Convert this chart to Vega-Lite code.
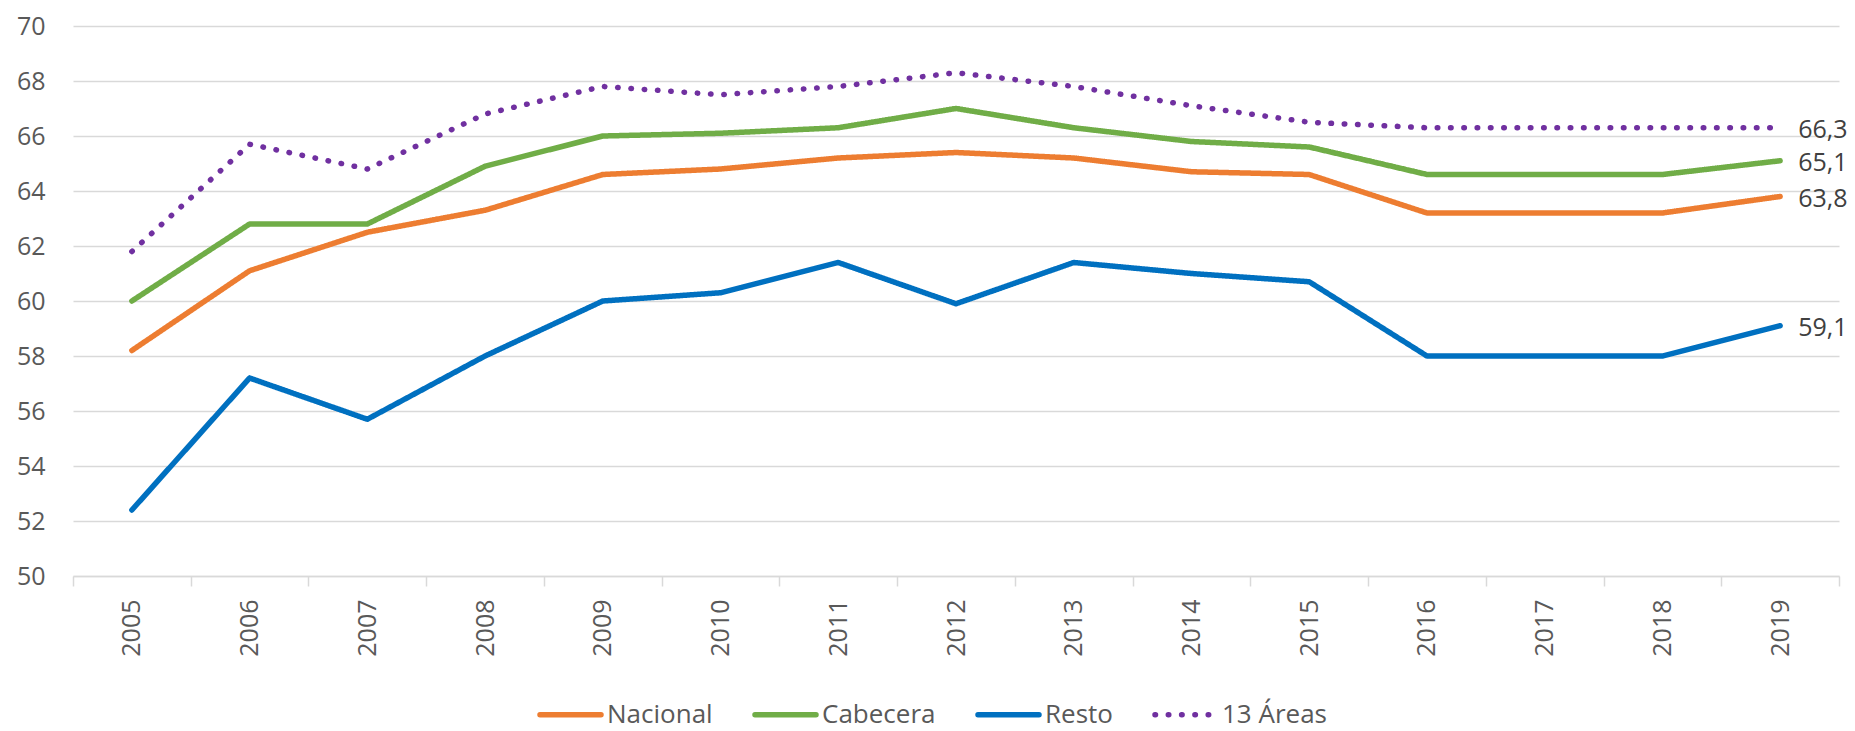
{
  "$schema": "https://vega.github.io/schema/vega-lite/v6.json",
  "width": 1766,
  "height": 550,
  "autosize": {"type": "none"},
  "padding": {"left": 73, "top": 26, "right": 16, "bottom": 155},
  "config": {
    "view": {"stroke": null},
    "font": "Open Sans",
    "locale": {"number": {"decimal": ",", "thousands": ".", "grouping": [3], "currency": ["", " €"]}}
  },
  "data": {
    "values": [
      {"year": "2005", "serie": "Nacional", "value": 58.2},
      {"year": "2006", "serie": "Nacional", "value": 61.1},
      {"year": "2007", "serie": "Nacional", "value": 62.5},
      {"year": "2008", "serie": "Nacional", "value": 63.3},
      {"year": "2009", "serie": "Nacional", "value": 64.6},
      {"year": "2010", "serie": "Nacional", "value": 64.8},
      {"year": "2011", "serie": "Nacional", "value": 65.2},
      {"year": "2012", "serie": "Nacional", "value": 65.4},
      {"year": "2013", "serie": "Nacional", "value": 65.2},
      {"year": "2014", "serie": "Nacional", "value": 64.7},
      {"year": "2015", "serie": "Nacional", "value": 64.6},
      {"year": "2016", "serie": "Nacional", "value": 63.2},
      {"year": "2017", "serie": "Nacional", "value": 63.2},
      {"year": "2018", "serie": "Nacional", "value": 63.2},
      {"year": "2019", "serie": "Nacional", "value": 63.8},
      {"year": "2005", "serie": "Cabecera", "value": 60.0},
      {"year": "2006", "serie": "Cabecera", "value": 62.8},
      {"year": "2007", "serie": "Cabecera", "value": 62.8},
      {"year": "2008", "serie": "Cabecera", "value": 64.9},
      {"year": "2009", "serie": "Cabecera", "value": 66.0},
      {"year": "2010", "serie": "Cabecera", "value": 66.1},
      {"year": "2011", "serie": "Cabecera", "value": 66.3},
      {"year": "2012", "serie": "Cabecera", "value": 67.0},
      {"year": "2013", "serie": "Cabecera", "value": 66.3},
      {"year": "2014", "serie": "Cabecera", "value": 65.8},
      {"year": "2015", "serie": "Cabecera", "value": 65.6},
      {"year": "2016", "serie": "Cabecera", "value": 64.6},
      {"year": "2017", "serie": "Cabecera", "value": 64.6},
      {"year": "2018", "serie": "Cabecera", "value": 64.6},
      {"year": "2019", "serie": "Cabecera", "value": 65.1},
      {"year": "2005", "serie": "Resto", "value": 52.4},
      {"year": "2006", "serie": "Resto", "value": 57.2},
      {"year": "2007", "serie": "Resto", "value": 55.7},
      {"year": "2008", "serie": "Resto", "value": 58.0},
      {"year": "2009", "serie": "Resto", "value": 60.0},
      {"year": "2010", "serie": "Resto", "value": 60.3},
      {"year": "2011", "serie": "Resto", "value": 61.4},
      {"year": "2012", "serie": "Resto", "value": 59.9},
      {"year": "2013", "serie": "Resto", "value": 61.4},
      {"year": "2014", "serie": "Resto", "value": 61.0},
      {"year": "2015", "serie": "Resto", "value": 60.7},
      {"year": "2016", "serie": "Resto", "value": 58.0},
      {"year": "2017", "serie": "Resto", "value": 58.0},
      {"year": "2018", "serie": "Resto", "value": 58.0},
      {"year": "2019", "serie": "Resto", "value": 59.1},
      {"year": "2005", "serie": "13 Áreas", "value": 61.8},
      {"year": "2006", "serie": "13 Áreas", "value": 65.7},
      {"year": "2007", "serie": "13 Áreas", "value": 64.8},
      {"year": "2008", "serie": "13 Áreas", "value": 66.8},
      {"year": "2009", "serie": "13 Áreas", "value": 67.8},
      {"year": "2010", "serie": "13 Áreas", "value": 67.5},
      {"year": "2011", "serie": "13 Áreas", "value": 67.8},
      {"year": "2012", "serie": "13 Áreas", "value": 68.3},
      {"year": "2013", "serie": "13 Áreas", "value": 67.8},
      {"year": "2014", "serie": "13 Áreas", "value": 67.1},
      {"year": "2015", "serie": "13 Áreas", "value": 66.5},
      {"year": "2016", "serie": "13 Áreas", "value": 66.3},
      {"year": "2017", "serie": "13 Áreas", "value": 66.3},
      {"year": "2018", "serie": "13 Áreas", "value": 66.3},
      {"year": "2019", "serie": "13 Áreas", "value": 66.3}
    ]
  },
  "encoding": {
    "x": {
      "field": "year",
      "type": "ordinal",
      "bandPosition": 0.5,
      "scale": {"type": "band", "paddingInner": 0, "paddingOuter": 0},
      "axis": {
        "title": null,
        "labelAngle": 270,
        "labelFontSize": 25,
        "labelColor": "#595959",
        "labelPadding": 13,
        "tickBand": "extent",
        "tickSize": 10,
        "tickColor": "#d9d9d9",
        "tickWidth": 1.5,
        "domainColor": "#d9d9d9",
        "domainWidth": 1.5,
        "grid": false
      }
    },
    "y": {
      "field": "value",
      "type": "quantitative",
      "scale": {"domain": [50, 70], "nice": false, "zero": false},
      "axis": {
        "title": null,
        "values": [50, 52, 54, 56, 58, 60, 62, 64, 66, 68, 70],
        "format": "d",
        "labelFontSize": 25,
        "labelColor": "#595959",
        "labelPadding": 28,
        "ticks": false,
        "domain": false,
        "gridColor": "#d9d9d9",
        "gridWidth": 1.5
      }
    }
  },
  "layer": [
    {
      "mark": {"type": "line", "strokeWidth": 5.5, "strokeCap": "round", "strokeJoin": "round"},
      "encoding": {
        "color": {
          "field": "serie",
          "type": "nominal",
          "scale": {"domain": ["Nacional", "Cabecera", "Resto", "13 Áreas"], "range": ["#ED7D31", "#70AD47", "#0070C0", "#7030A0"]},
          "legend": {
            "title": null,
            "orient": "none",
            "direction": "horizontal",
            "legendX": 464,
            "legendY": 655,
            "symbolType": "stroke",
            "symbolSize": 3721,
            "symbolStrokeWidth": 5.5,
            "labelFontSize": 26,
            "labelColor": "#595959",
            "labelOffset": 3,
            "columnPadding": 31,
            "encoding": {"symbols": {"strokeCap": {"value": "round"}}}
          }
        },
        "strokeDash": {
          "field": "serie",
          "type": "nominal",
          "scale": {"domain": ["Nacional", "Cabecera", "Resto", "13 Áreas"], "range": [[1, 0], [1, 0], [1, 0], [0.5, 12.8]]},
          "legend": {
            "title": null,
            "orient": "none",
            "direction": "horizontal",
            "legendX": 464,
            "legendY": 655,
            "symbolType": "stroke",
            "symbolSize": 3721,
            "symbolStrokeWidth": 5.5,
            "labelFontSize": 26,
            "labelColor": "#595959",
            "labelOffset": 3,
            "columnPadding": 31,
            "encoding": {"symbols": {"strokeCap": {"value": "round"}}}
          }
        }
      }
    },
    {
      "transform": [{"filter": "datum.year == '2019'"}],
      "mark": {"type": "text", "align": "left", "baseline": "middle", "dx": 18, "dy": 2, "fontSize": 25, "color": "#404040"},
      "encoding": {
        "text": {"field": "value", "type": "quantitative", "format": ".1f"}
      }
    }
  ]
}
